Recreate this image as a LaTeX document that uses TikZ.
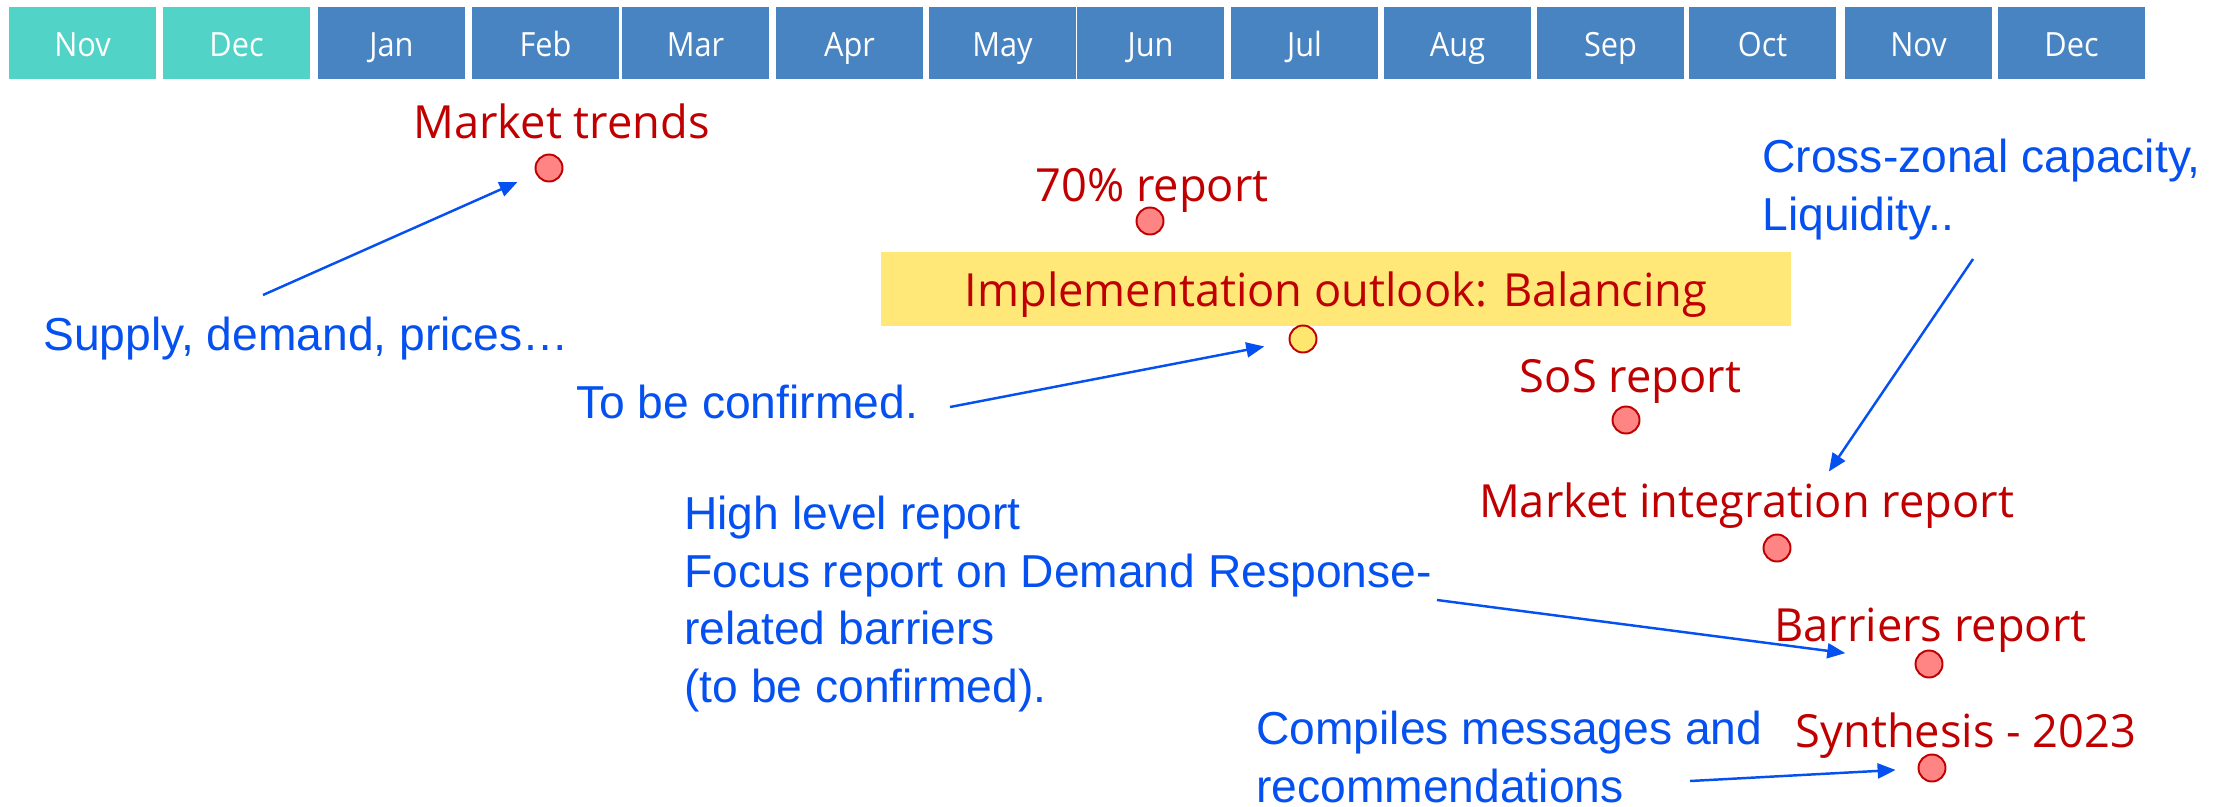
\documentclass[tikz,border=0pt]{standalone}
\usepackage{fontspec}
\usepackage{tikz}
\usetikzlibrary{positioning,calc,arrows.meta}
\usepackage{xcolor}

\newfontfamily\redfont[FakeStretch=0.99]{Open Sans}
\newfontfamily\monthfont[FakeStretch=0.92]{Open Sans}
\newfontfamily\bluefont{Liberation Sans}

\definecolor{oldmonth}{RGB}{82,211,200}
\definecolor{newmonth}{RGB}{72,132,194}
\definecolor{outlookfill}{RGB}{255,232,120}
\definecolor{dotfill}{RGB}{255,133,133}
\definecolor{dotyellow}{RGB}{255,230,110}
\definecolor{darkred}{RGB}{192,0,0}
\definecolor{notesblue}{RGB}{5,80,240}

\tikzset{
  monthbox/.style={minimum width=2.94cm, minimum height=1.44cm, inner sep=0pt,
    text=white, font=\monthfont\fontsize{19}{22}\selectfont,
    text height=0.6cm, text depth=0.08cm},
  dot/.style={circle, draw=darkred, line width=1.1pt, fill=dotfill,
    minimum size=0.54cm, inner sep=0pt},
  redlabel/.style={text=darkred, inner sep=0pt,
    font=\redfont\fontsize{26}{31}\selectfont},
  bluelabel/.style={text=notesblue, inner sep=0pt, align=left,
    font=\bluefont\fontsize{26.3}{32.7}\selectfont},
  pointer/.style={draw=notesblue, line width=1.4pt,
    -{Triangle[length=0.36cm,width=0.3cm]}},
}

\begin{document}
\begin{tikzpicture}[x=0.02cm, y=-0.02cm]
    \useasboundingbox (0,0) rectangle (2237,806);

      % Months
      \foreach \x/\m/\c [count=\i] in {9/Nov/oldmonth, 163/Dec/oldmonth,
          318/Jan/newmonth, 472/Feb/newmonth, 622/Mar/newmonth,
          776/Apr/newmonth, 929/May/newmonth, 1077/Jun/newmonth,
          1231/Jul/newmonth, 1384/Aug/newmonth, 1537/Sep/newmonth,
          1689/Oct/newmonth, 1845/Nov/newmonth, 1998/Dec/newmonth}
      \node[monthbox, fill=\c] (m\i) at (\x + 73.5, 43) {\m};

      % Balancing
      \node[redlabel, fill=outlookfill, minimum width=18.2cm, minimum height=1.48cm,
        text height=0.8cm, text depth=0.12cm] (balancing) at (1336, 289)
        {Implementation outlook: Balancing};
      \node[dot, fill=dotyellow] (balancingdot) at (1303, 339) {};

      % Reports
      \node[redlabel, anchor=base] (trends) at (561.5, 138) {Market trends};
      \node[dot] (trendsdot) at (549, 168) {};

      \node[redlabel, anchor=base] (seventy) at (1152, 201) {70\% report};
      \node[dot] (seventydot) at (1150, 221) {};

      \node[redlabel, anchor=base] (sos) at (1630.5, 392) {SoS report};
      \node[dot] (sosdot) at (1626, 420) {};

      \node[redlabel, anchor=base] (integration) at (1746.5, 517) {Market integration report};
      \node[dot] (integrationdot) at (1777, 548) {};

      \node[redlabel, anchor=base] (barriers) at (1930.5, 641) {Barriers report};
      \node[dot] (barriersdot) at (1929, 664) {};

      \node[redlabel, anchor=base] (synthesis) at (1966, 747) {Synthesis - 2023};
      \node[dot] (synthesisdot) at (1932, 768) {};

      % Notes (base = last line)
      \node[bluelabel, anchor=base west] (supply) at (43, 350) {Supply, demand, prices…};
      \node[bluelabel, anchor=base west] (confirm) at (576, 418) {To be confirmed.};
      \node[bluelabel, anchor=base west] (crosszonal) at (1762, 230)
        {Cross-zonal capacity,\\Liquidity..};
      \node[bluelabel, anchor=base west] (highlevel) at (684, 702)
        {High level report\\Focus report on Demand Response-\\related barriers\\(to be confirmed).};
      \node[bluelabel, anchor=base west] (compiles) at (1256, 802)
        {Compiles messages and\\recommendations};

      % Arrows
      \coordinate (supplyfrom) at (263, 295);
      \coordinate (confirmfrom) at (950, 407);
      \coordinate (crossfrom) at (1973, 259);
      \coordinate (highfrom) at (1437, 600);
      \coordinate (compilesfrom) at (1690, 781);

      \draw[pointer, shorten >=0.4cm] (supplyfrom) -- (trendsdot);
      \draw[pointer, shorten >=0.5cm] (confirmfrom) -- (balancingdot);
      \draw[pointer, shorten >=1.56cm] (crossfrom) -- (integrationdot);
      \draw[pointer, shorten >=1.4cm] (highfrom) -- (barriersdot);
      \draw[pointer, shorten >=0.44cm] (compilesfrom) -- (synthesisdot);
  \end{tikzpicture}
\end{document}
